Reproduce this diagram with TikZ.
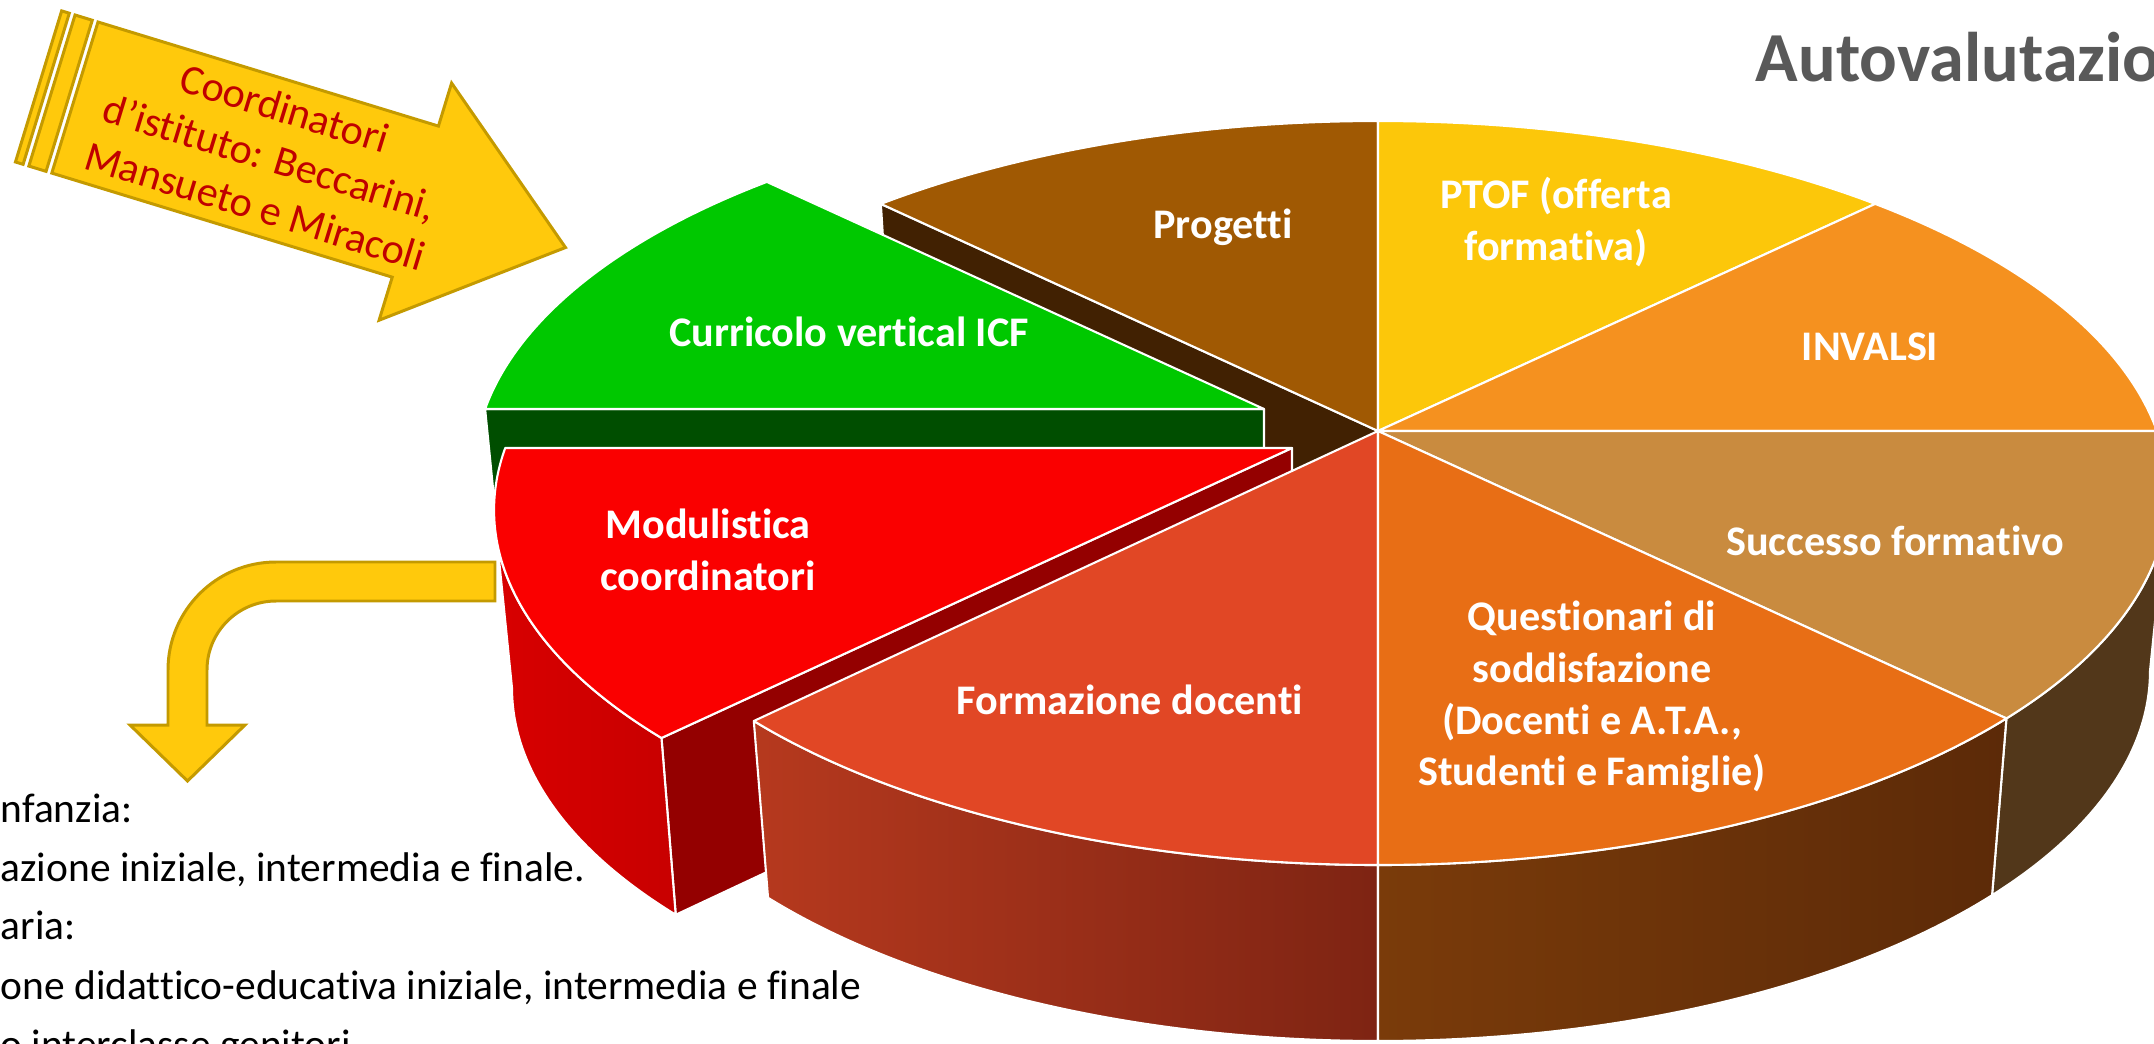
\documentclass[tikz,border=0pt]{standalone}
\usepackage{fontspec}
\setmainfont{Carlito}[Ligatures=NoCommon]

\definecolor{progcol}{RGB}{160,89,3}
\definecolor{progdark}{RGB}{65,33,2}
\definecolor{ptofcol}{RGB}{252,199,10}
\definecolor{invcol}{RGB}{245,145,31}
\definecolor{succcol}{RGB}{201,139,63}
\definecolor{succdark}{RGB}{82,55,26}
\definecolor{questcol}{RGB}{232,110,21}
\definecolor{questdarkL}{RGB}{122,59,10}
\definecolor{questdarkR}{RGB}{92,42,8}
\definecolor{formcol}{RGB}{225,71,37}
\definecolor{formdarkL}{RGB}{182,57,30}
\definecolor{formdarkR}{RGB}{126,36,19}
\definecolor{modcol}{RGB}{250,0,0}
\definecolor{modsideL}{RGB}{216,0,0}
\definecolor{modsideR}{RGB}{200,0,0}
\definecolor{modinner}{RGB}{148,0,0}
\definecolor{curcol}{RGB}{0,200,0}
\definecolor{curdark}{RGB}{0,78,0}
\definecolor{frecciafill}{RGB}{255,201,12}
\definecolor{freccialine}{RGB}{196,154,0}
\definecolor{titlecol}{RGB}{89,89,89}
\definecolor{scrittacol}{RGB}{192,0,0}

\tikzset{
  fetta/.style={draw=white, line width=0.6pt, line join=round},
  toparc/.style={x radius=79mm, y radius=37.2mm},
  botarc/.style={x radius=77.2mm, y radius=37mm},
  redtop/.style={x radius=79.8mm, y radius=37.2mm},
  redbot/.style={x radius=78mm, y radius=37mm},
  etichetta/.style={text=white, inner sep=0pt, align=center, font=\bfseries\fontsize{12}{14.7}\selectfont},
  freccia/.style={fill=frecciafill, draw=freccialine, line width=0.85pt},
  elenco/.style={anchor=base west, inner sep=0pt, font=\fontsize{11.8}{14}\selectfont},
}

\begin{document}
\begin{tikzpicture}[x=0.1mm, y=0.1mm]
  \useasboundingbox (0,0) rectangle (2154,1043);
  \clip (0,0) rectangle (2154,1043);

  % centre and rim points of the cake
  \coordinate (C) at (1378,612);
  \coordinate (Cb) at (1378,434);
  \path (1378,550) ++(90:79mm and 37.2mm) coordinate (t90)
        (1378,550) ++(51:79mm and 37.2mm) coordinate (t51)
        (1378,550) ++(9.6:79mm and 37.2mm) coordinate (t9)
        (1378,550) ++(-37.3:79mm and 37.2mm) coordinate (tm37)
        (1378,550) ++(-90:79mm and 37.2mm) coordinate (tm90)
        (1378,550) ++(217.8:79mm and 37.2mm) coordinate (t218)
        (1378,550) ++(129:79mm and 37.2mm) coordinate (t129)
        (1378,372) ++(0:77.2mm and 37mm) coordinate (b0)
        (1378,372) ++(-37.3:77.2mm and 37mm) coordinate (bm37)
        (1378,372) ++(-90:77.2mm and 37mm) coordinate (bm90)
        (1378,372) ++(129:77.2mm and 37mm) coordinate (b129);

  % wall of Progetti left open by the pulled slices
  \draw[fetta, fill=progdark] (C) -- (t129) -- (b129) -- (Cb) -- cycle;

  \draw[fetta, fill=progcol] (C) -- (t90) arc[toparc, start angle=90, end angle=129] -- cycle;
  \draw[fetta, fill=ptofcol] (C) -- (t51) arc[toparc, start angle=51, end angle=90] -- cycle;
  \draw[fetta, fill=invcol] (C) -- (t9) arc[toparc, start angle=9.6, end angle=51] -- cycle;
  \draw[fetta, fill=succdark] (tm37) arc[toparc, start angle=-37.3, end angle=0] -- (b0) arc[botarc, start angle=0, end angle=-37.3] -- cycle;
  \draw[fetta, fill=succcol] (C) -- (tm37) arc[toparc, start angle=-37.3, end angle=9.6] -- cycle;

  % Curricolo, pulled out
  \begin{scope}[shift={(-114,22)}]
    \path (1378,550) ++(129:79mm and 37.2mm) coordinate (g129)
          (1378,550) ++(170.4:79mm and 37.2mm) coordinate (g170)
          (1378,372) ++(170.4:77.2mm and 37mm) coordinate (gb170);
    \coordinate (Cg) at (1378,612);
    \coordinate (Cgb) at (1378,434);
    \draw[fetta, fill=curdark] (Cg) -- (g170) -- (gb170) -- (Cgb) -- cycle;
    \draw[fetta, fill=curcol] (Cg) -- (g129) arc[toparc, start angle=129, end angle=170.4] -- cycle;
  \end{scope}

  % Modulistica, pulled out
  \begin{scope}[shift={(-86,-17)}]
    \path (1378,550) ++(170.4:79.8mm and 37.2mm) coordinate (r170)
          (1378,550) ++(180:79.8mm and 37.2mm) coordinate (r180)
          (1378,550) ++(217.8:79.8mm and 37.2mm) coordinate (r218)
          (1378,372) ++(217.8:78mm and 37mm) coordinate (rb218);
    \coordinate (Cr) at (1378,612);
    \coordinate (Crb) at (1378,434);
    \draw[fetta, fill=modinner] (Cr) -- (r218) -- (rb218) -- (Crb) -- cycle;
    \draw[fetta, left color=modsideL, right color=modsideR] (r180) arc[redtop, start angle=180, end angle=217.8] -- (rb218) arc[redbot, start angle=217.8, end angle=180] -- cycle;
    \draw[fetta, fill=modcol] (Cr) -- (r170) arc[redtop, start angle=170.4, end angle=217.8] -- cycle;
  \end{scope}

  \draw[fetta, left color=formdarkL, right color=formdarkR] (t218) arc[toparc, start angle=217.8, end angle=270] -- (bm90) arc[botarc, start angle=270, end angle=217.8] -- cycle;
  \draw[fetta, left color=questdarkL, right color=questdarkR] (tm90) arc[toparc, start angle=-90, end angle=-37.3] -- (bm37) arc[botarc, start angle=-37.3, end angle=-90] -- cycle;
  \draw[fetta, fill=formcol] (C) -- (t218) arc[toparc, start angle=217.8, end angle=270] -- cycle;
  \draw[fetta, fill=questcol] (C) -- (tm90) arc[toparc, start angle=-90, end angle=-37.3] -- cycle;

  \node[etichetta] (progetti) at (1223,816) {Progetti};
  \node[etichetta] (ptof) at (1556,821) {PTOF (offerta\\formativa)};
  \node[etichetta] (invalsi) at (1870,696) {INVALSI};
  \node[etichetta] (successo) at (1895,502) {Successo formativo};
  \node[etichetta] (questionari) at (1592,346) {Questionari di\\soddisfazione\\(Docenti e A.T.A.,\\Studenti e Famiglie)};
  \node[etichetta] (formazione) at (1130,343) {Formazione docenti};
  \node[etichetta] (modulistica) at (708,493) {Modulistica\\coordinatori};
  \node[etichetta] (curricolo) at (849,711) {Curricolo vertical ICF};

  \node[anchor=base west, inner sep=0pt, text=titlecol, font=\bfseries\fontsize{20}{24}\selectfont] (titolo) at (1755,962) {Autovalutazione};

  % striped arrow
  \begin{scope}[shift={(98,1021)}, rotate=-17]
    \draw[freccia] (-38,0) rectangle (-30,-158);
    \draw[freccia] (-24,0) rectangle (-6,-158);
    \draw[freccia] (0,0) -- (356,0) -- (356,45) -- (513,-79) -- (356,-203) -- (356,-158) -- (0,-158) -- cycle;
    \node[rotate=-17, text=scrittacol, align=center, inner sep=0pt, font=\fontsize{12}{14.5}\selectfont] (coordinatori) at (204,-79) {Coordinatori\\d’istituto: Beccarini,\\Mansueto e Miracoli};
  \end{scope}

  % bent arrow
  \draw[freccia] (495,481) -- (276,481) arc[start angle=90, end angle=180, radius=10.8mm] -- (168,318) -- (130,318) -- (187.5,262) -- (245,318) -- (207,318) -- (207,373) arc[start angle=180, end angle=90, radius=6.9mm] -- (495,442) -- cycle;

  \node[elenco] (infanzia) at (0,221) {nfanzia:};
  \node[elenco] (valinfanzia) at (0,162) {azione iniziale, intermedia e finale.};
  \node[elenco] (primaria) at (0,104) {aria:};
  \node[elenco] (valprimaria) at (0,44) {one didattico-educativa iniziale, intermedia e finale};
  \node[elenco] (interclasse) at (0,-15) {o interclasse genitori};
\end{tikzpicture}
\end{document}
